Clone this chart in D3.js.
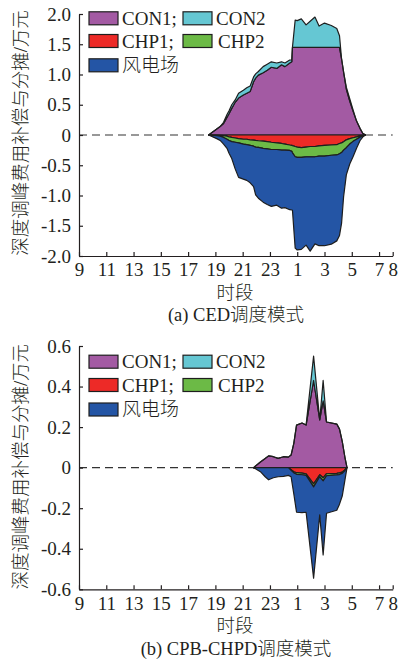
<!DOCTYPE html>
<html><head><meta charset="utf-8">
<script src="https://cdn.jsdelivr.net/npm/d3@7"></script>
<style>body{margin:0;background:#fff}svg{display:block}</style>
</head><body>
<svg id="c" width="406" height="659"></svg>
<script>
// ---------- shared ----------
const xTicks = [9, 11, 13, 15, 17, 19, 21, 23, 25, 27, 29, 31, 32];
const xTickLabels = ["9", "11", "13", "15", "17", "19", "21", "23", "1", "3", "5", "7", "8"];
const seriesKeys = ["CON1", "CON2", "CHP1", "CHP2", "风电场"];
const legendLabels = ["CON1;", "CON2", "CHP1;", "CHP2", "风电场"];
const colors = {"CON1": "#a35aa3", "CON2": "#65c7d3", "CHP1": "#ed2a27", "CHP2": "#6cba46", "风电场": "#2455a5"};
const yTitle = "深度调峰费用补偿与分摊/万元";
const xTitle = "时段";

// ---------- panel (a) CED ----------
const hoursA = [18.5, 19.1, 19.35, 19.6, 19.85, 20.0, 20.2, 20.45, 20.7, 21.05, 21.3, 21.55, 21.8, 21.95, 22.15, 22.5, 22.8, 23.1, 23.5, 23.85, 24.1, 24.45, 24.6, 24.65, 24.85, 25.0, 25.3, 25.65, 25.95, 26.3, 26.6, 27.0, 27.5, 27.9, 28.1, 28.25, 28.4, 28.6, 28.85, 29.1, 29.35, 29.6, 29.8, 30.0];
const con1A = [0, 0.10, 0.14, 0.19, 0.29, 0.35, 0.44, 0.54, 0.61, 0.66, 0.69, 0.72, 0.88, 0.94, 0.99, 1.03, 1.07, 1.12, 1.10, 1.16, 1.13, 1.19, 1.21, 1.45, 1.45, 1.45, 1.45, 1.45, 1.45, 1.45, 1.45, 1.45, 1.45, 1.45, 1.45, 1.26, 1.04, 0.76, 0.56, 0.39, 0.23, 0.11, 0.03, 0];
const con2A = [0, 0, 0, 0.02, 0.05, 0.05, 0.06, 0.04, 0.08, 0.08, 0.09, 0.09, 0.08, 0.07, 0.06, 0.10, 0.10, 0.09, 0.09, 0.05, 0.06, 0.05, 0.03, 0, 0.45, 0.44, 0.47, 0.37, 0.43, 0.50, 0.35, 0.40, 0.36, 0.31, 0.19, 0, 0, 0.03, 0.04, 0.02, 0, 0, 0, 0];
const chp1A = [0, 0, -0.005, -0.01, -0.02, -0.03, -0.04, -0.05, -0.06, -0.07, -0.07, -0.08, -0.085, -0.09, -0.095, -0.10, -0.11, -0.12, -0.13, -0.14, -0.15, -0.165, -0.17, -0.175, -0.19, -0.20, -0.21, -0.20, -0.19, -0.19, -0.18, -0.17, -0.165, -0.16, -0.14, -0.13, -0.11, -0.08, -0.06, -0.045, -0.03, -0.015, -0.005, 0];
const chp2A = [0, -0.01, -0.015, -0.03, -0.05, -0.06, -0.07, -0.07, -0.07, -0.08, -0.09, -0.09, -0.10, -0.11, -0.11, -0.12, -0.12, -0.12, -0.11, -0.11, -0.10, -0.09, -0.10, -0.12, -0.17, -0.17, -0.16, -0.16, -0.17, -0.17, -0.17, -0.18, -0.17, -0.17, -0.17, -0.16, -0.14, -0.13, -0.09, -0.06, -0.04, -0.02, -0.01, 0];
const windA = [0, -0.05, -0.07, -0.11, -0.15, -0.21, -0.28, -0.44, -0.57, -0.58, -0.59, -0.62, -0.67, -0.79, -0.84, -0.89, -0.92, -0.94, -0.92, -0.96, -0.95, -0.98, -0.97, -0.95, -1.51, -1.53, -1.52, -1.46, -1.56, -1.44, -1.48, -1.48, -1.47, -1.42, -1.35, -1.17, -0.77, -0.45, -0.33, -0.25, -0.15, -0.06, -0.02, 0];
const yTicksA = [2, 1.5, 1, 0.5, 0, -0.5, -1, -1.5, -2];
const yTickLabelsA = ["2.0", "1.5", "1.0", "0.5", "0", "-0.5", "-1.0", "-1.5", "-2.0"];

// ---------- panel (b) CPB-CHPD ----------
const hoursB = [21.8, 22.3, 22.65, 22.9, 23.25, 23.6, 24.0, 24.35, 24.55, 24.75, 24.95, 25.35, 25.65, 26.2, 26.65, 26.9, 27.15, 27.9, 28.1, 28.3, 28.5, 28.65];
const con1B = [0, 0.028, 0.045, 0.058, 0.054, 0.046, 0.054, 0.052, 0.062, 0.12, 0.21, 0.22, 0.21, 0.43, 0.235, 0.33, 0.225, 0.215, 0.19, 0.13, 0.05, 0];
const con2B = [0, 0, 0, 0, 0, 0, 0, 0, 0, 0, 0, 0, 0, 0.12, 0, 0.10, 0, 0, 0, 0, 0, 0];
const chp1B = [0, 0, 0, 0, 0, 0, 0, 0, -0.01, -0.02, -0.025, -0.027, -0.03, -0.08, -0.035, -0.05, -0.03, -0.028, -0.026, -0.022, -0.01, 0];
const chp2B = [0, 0, 0, 0, 0, 0, 0, 0, -0.003, -0.006, -0.008, -0.008, -0.008, -0.015, -0.01, -0.015, -0.01, -0.008, -0.008, -0.006, -0.004, 0];
const windB = [0, -0.02, -0.045, -0.06, -0.05, -0.045, -0.043, -0.038, -0.032, -0.104, -0.187, -0.187, -0.182, -0.45, -0.188, -0.365, -0.185, -0.174, -0.146, -0.112, -0.046, 0];
const yTicksB = [0.6, 0.4, 0.2, 0, -0.2, -0.4, -0.6];
const yTickLabelsB = ["0.6", "0.4", "0.2", "0", "-0.2", "-0.4", "-0.6"];

const svg = d3.select("#c");
const latin = "'Liberation Serif','Times New Roman',serif";
const mixed = "'Liberation Serif','Noto Sans CJK SC',serif";
const ink = "#231f20";

function panel(cfg) {
  const x = d3.scaleLinear().domain([9, 32]).range([79, 392.7]);
  const y = d3.scaleLinear().domain(cfg.yDomain).range([cfg.bottom, cfg.top]);
  const g = svg.append("g");

  const rows = cfg.hours.map((h, i) => ({h, CON1: cfg.con1[i], CON2: cfg.con2[i], CHP1: cfg.chp1[i], CHP2: cfg.chp2[i], "风电场": cfg.wind[i]}));
  const pos = d3.stack().keys(["CON1", "CON2"])(rows);
  const neg = d3.stack().keys(["CHP1", "CHP2", "风电场"])(rows);

  // zero dashed line
  g.append("line").attr("x1", x(9)).attr("x2", x(32)).attr("y1", y(0)).attr("y2", y(0))
    .attr("stroke", "#333").attr("stroke-width", 1.2).attr("stroke-dasharray", "8,5");

  const area = d3.area().x(d => x(d.data.h)).y0(d => y(d[0])).y1(d => y(d[1]));
  g.selectAll("path.layer").data([...pos, ...neg]).join("path")
    .attr("class", "layer")
    .attr("d", area)
    .attr("fill", d => colors[d.key])
    .attr("stroke", "#1e1e1e").attr("stroke-width", 1.2).attr("stroke-linejoin", "round");

  // axes
  const xa = g.append("g").attr("transform", `translate(0,${cfg.bottom})`)
    .call(d3.axisBottom(x).tickValues(xTicks).tickFormat((d, i) => xTickLabels[i]).tickSizeInner(-4).tickSizeOuter(0).tickPadding(7));
  const ya = g.append("g").attr("transform", `translate(79,0)`)
    .call(d3.axisLeft(y).tickValues(cfg.yTicks).tickFormat((d, i) => cfg.yTickLabels[i]).tickSizeInner(-4).tickSizeOuter(0).tickPadding(8));
  [xa, ya].forEach(a => {
    a.attr("font-family", null);
    a.select(".domain").attr("stroke", ink).attr("stroke-width", 1.2);
    a.selectAll(".tick line").attr("stroke", ink).attr("stroke-width", 1.2);
    a.selectAll(".tick text").attr("fill", ink).style("font-family", latin).style("font-size", "19px");
  });

  // legend
  const lg = g.append("g");
  const items = [
    {k: "CON1", lab: legendLabels[0], col: 0, row: 0},
    {k: "CON2", lab: legendLabels[1], col: 1, row: 0},
    {k: "CHP1", lab: legendLabels[2], col: 0, row: 1},
    {k: "CHP2", lab: legendLabels[3], col: 1, row: 1},
    {k: "风电场", lab: legendLabels[4], col: 0, row: 2}
  ];
  items.forEach(it => {
    const cy = cfg.legendY[it.row];
    const sx = it.col === 0 ? 89 : 183;
    lg.append("rect").attr("x", sx).attr("y", cy - 6.5).attr("width", 29).attr("height", 13)
      .attr("fill", colors[it.k]).attr("stroke", "#1e1e1e").attr("stroke-width", 1.2);
    lg.append("text").attr("x", sx + 33 + (it.k === "CHP2" ? 2 : 0)).attr("y", cy).attr("dy", "0.35em")
      .attr("fill", ink).style("font-family", mixed).style("font-weight", 300).style("font-size", "19px").text(it.lab);
  });

  // titles
  g.append("text").attr("transform", `translate(21,${cfg.yTitleY}) rotate(-90)`)
    .attr("text-anchor", "middle").attr("dy", "0.35em").attr("fill", ink)
    .style("font-family", mixed).style("font-weight", 300).style("font-size", "18.5px").text(yTitle);
  g.append("text").attr("x", 235).attr("y", cfg.xTitleY).attr("text-anchor", "middle").attr("dy", "0.35em")
    .attr("fill", ink).style("font-family", mixed).style("font-weight", 300).style("font-size", "18.5px").text(xTitle);
  g.append("text").attr("x", 236).attr("y", cfg.capY).attr("text-anchor", "middle").attr("dy", "0.35em")
    .attr("fill", ink).style("font-family", mixed).style("font-weight", 300).style("font-size", "18.5px").text(cfg.caption);
}

panel({top: 14, bottom: 256, yDomain: [-2, 2], hours: hoursA, con1: con1A, con2: con2A, chp1: chp1A, chp2: chp2A, wind: windA,
  yTicks: yTicksA, yTickLabels: yTickLabelsA, legendY: [18.3, 41, 65.3], yTitleY: 133, xTitleY: 293, capY: 315, caption: "(a) CED调度模式"});
panel({top: 346, bottom: 589.3, yDomain: [-0.6, 0.6], hours: hoursB, con1: con1B, con2: con2B, chp1: chp1B, chp2: chp2B, wind: windB,
  yTicks: yTicksB, yTickLabels: yTickLabelsB, legendY: [361.7, 385, 409.5], yTitleY: 466.7, xTitleY: 625.5, capY: 648.3, caption: "(b) CPB-CHPD调度模式"});
</script>
</body></html>
